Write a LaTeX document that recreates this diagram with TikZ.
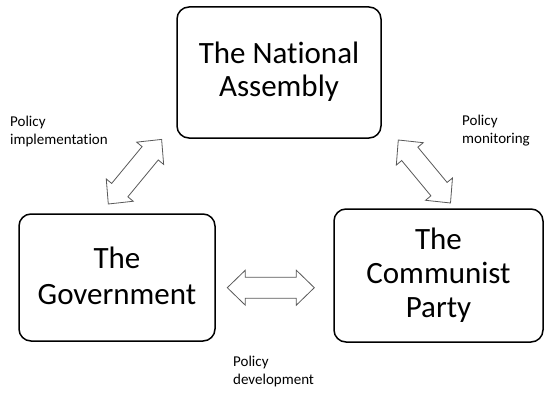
\documentclass[tikz,border=0pt]{standalone}
\usepackage{fontspec}
\setmainfont{Carlito}[Ligatures={NoCommon,NoRequired,NoContextual}]
\usetikzlibrary{calc}
\tikzset{
  box/.style={draw=black, line width=1.5pt, rounded corners=12pt, align=center,
    font=\fontsize{31}{34}\selectfont, inner sep=0pt, text depth=8pt},
  lbl/.style={align=left, anchor=base west, inner sep=0pt,
    font=\fontsize{15}{18}\selectfont},
  barrow/.style={draw=black!65, fill=white, line width=0.8pt, line join=miter}
}
\newcommand\blockarrow[2]{%
  \draw[barrow] let \p1=($(#2)-(#1)$), \n1={atan2(\y1,\x1)}, \n2={veclen(\x1,\y1)} in
    [shift={(#1)}, rotate=\n1]
    (0,0) -- (18,17.5) -- (18,10.5) -- (\n2-18,10.5) -- (\n2-18,17.5) -- (\n2,0)
    -- (\n2-18,-17.5) -- (\n2-18,-10.5) -- (18,-10.5) -- (18,-17.5) -- cycle;}
\begin{document}
\begin{tikzpicture}[x=1pt,y=-1pt]
\useasboundingbox (0,0) rectangle (544,396);
\node[box, minimum width=204pt, minimum height=131pt, text height=57pt,
  font=\fontsize{31}{33}\selectfont] (na) at (279,72.5) {The National\\Assembly};
\node[box, minimum width=196pt, minimum height=127pt, text height=61pt,
  font=\fontsize{31}{36}\selectfont] (gov) at (117,277.5) {The\\Government};
\node[box, minimum width=209pt, minimum height=133pt, text height=91pt] (cp) at (438.5,275.5) {The\\Communist\\Party};
\coordinate (a1) at (108.3,204);
\coordinate (a2) at (161.7,139.3);
\coordinate (b1) at (398.3,140);
\coordinate (b2) at (450.5,203);
\coordinate (c1) at (227.3,287.7);
\coordinate (c2) at (314.3,287.7);
\blockarrow{a1}{a2}
\blockarrow{b1}{b2}
\blockarrow{c1}{c2}
\node[lbl] (l1) at (10,144) {Policy\\implementation};
\node[lbl] (l2) at (462,143) {Policy\\monitoring};
\node[lbl] (l3) at (233,384) {Policy\\development};
\end{tikzpicture}
\end{document}
